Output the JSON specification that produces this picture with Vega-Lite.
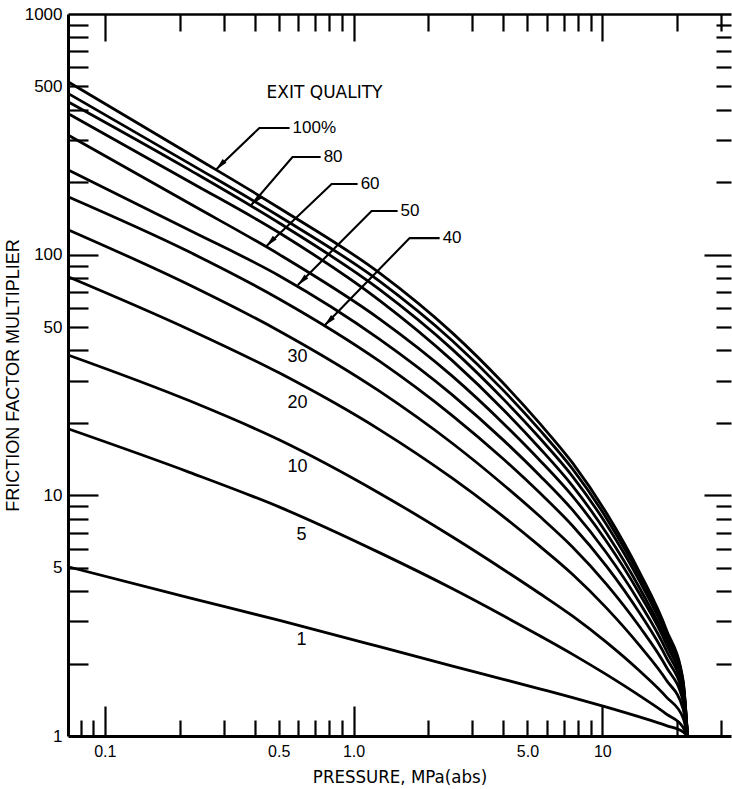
{
  "$schema": "https://vega.github.io/schema/vega-lite/v6.json",
  "width": 663,
  "height": 722,
  "autosize": {"type": "none"},
  "padding": {"left": 68, "top": 14, "right": 1, "bottom": 53},
  "background": "white",
  "config": {
    "view": {"stroke": null},
    "axis": {"grid": false, "labelOverlap": false, "labelFlush": false, "domainColor": "black", "tickColor": "black", "labelColor": "black", "titleColor": "black"}
  },
  "datasets": {
    "curves": [
      {"q": "100", "p": 0.0711, "f": 523}, {"q": "100", "p": 0.219, "f": 262}, {"q": "100", "p": 0.504, "f": 156}, {"q": "100", "p": 1.27, "f": 84.0}, {"q": "100", "p": 2.5, "f": 47.2}, {"q": "100", "p": 4.0, "f": 29.2}, {"q": "100", "p": 5.6, "f": 19.9}, {"q": "100", "p": 7.6, "f": 13.6}, {"q": "100", "p": 10.4, "f": 8.42}, {"q": "100", "p": 14.1, "f": 4.80}, {"q": "100", "p": 18.1, "f": 2.76}, {"q": "100", "p": 21.1, "f": 1.71}, {"q": "100", "p": 22.0, "f": 1},
      {"q": "90", "p": 0.0711, "f": 468}, {"q": "90", "p": 0.219, "f": 239}, {"q": "90", "p": 0.504, "f": 144}, {"q": "90", "p": 1.27, "f": 77.6}, {"q": "90", "p": 2.5, "f": 43.8}, {"q": "90", "p": 4.0, "f": 27.3}, {"q": "90", "p": 5.6, "f": 18.7}, {"q": "90", "p": 7.6, "f": 12.85}, {"q": "90", "p": 10.4, "f": 8.02}, {"q": "90", "p": 14.1, "f": 4.62}, {"q": "90", "p": 18.1, "f": 2.69}, {"q": "90", "p": 21.1, "f": 1.685}, {"q": "90", "p": 22.0, "f": 1},
      {"q": "80", "p": 0.0711, "f": 432}, {"q": "80", "p": 0.219, "f": 225}, {"q": "80", "p": 0.504, "f": 135}, {"q": "80", "p": 1.27, "f": 71.7}, {"q": "80", "p": 2.5, "f": 40.3}, {"q": "80", "p": 4.0, "f": 25.1}, {"q": "80", "p": 5.6, "f": 17.3}, {"q": "80", "p": 7.6, "f": 11.97}, {"q": "80", "p": 10.4, "f": 7.55}, {"q": "80", "p": 14.1, "f": 4.41}, {"q": "80", "p": 18.1, "f": 2.60}, {"q": "80", "p": 21.1, "f": 1.653}, {"q": "80", "p": 22.0, "f": 1},
      {"q": "70", "p": 0.0711, "f": 386}, {"q": "70", "p": 0.219, "f": 201}, {"q": "70", "p": 0.504, "f": 123}, {"q": "70", "p": 1.27, "f": 64.6}, {"q": "70", "p": 2.5, "f": 36.2}, {"q": "70", "p": 4.0, "f": 22.7}, {"q": "70", "p": 5.6, "f": 15.7}, {"q": "70", "p": 7.6, "f": 10.92}, {"q": "70", "p": 10.4, "f": 6.96}, {"q": "70", "p": 14.1, "f": 4.13}, {"q": "70", "p": 18.1, "f": 2.48}, {"q": "70", "p": 21.1, "f": 1.607}, {"q": "70", "p": 22.0, "f": 1},
      {"q": "60", "p": 0.0711, "f": 314}, {"q": "60", "p": 0.219, "f": 163.1}, {"q": "60", "p": 0.504, "f": 100}, {"q": "60", "p": 1.27, "f": 54.1}, {"q": "60", "p": 2.5, "f": 31.2}, {"q": "60", "p": 4.0, "f": 19.9}, {"q": "60", "p": 5.6, "f": 14.0}, {"q": "60", "p": 7.6, "f": 9.90}, {"q": "60", "p": 10.4, "f": 6.43}, {"q": "60", "p": 14.1, "f": 3.90}, {"q": "60", "p": 18.1, "f": 2.40}, {"q": "60", "p": 21.1, "f": 1.578}, {"q": "60", "p": 22.0, "f": 1},
      {"q": "50", "p": 0.0711, "f": 225}, {"q": "50", "p": 0.219, "f": 126.3}, {"q": "50", "p": 0.504, "f": 81.6}, {"q": "50", "p": 1.27, "f": 44.6}, {"q": "50", "p": 2.5, "f": 26.1}, {"q": "50", "p": 4.0, "f": 16.96}, {"q": "50", "p": 5.6, "f": 12.1}, {"q": "50", "p": 7.6, "f": 8.68}, {"q": "50", "p": 10.4, "f": 5.76}, {"q": "50", "p": 14.1, "f": 3.59}, {"q": "50", "p": 18.1, "f": 2.26}, {"q": "50", "p": 21.1, "f": 1.529}, {"q": "50", "p": 22.0, "f": 1},
      {"q": "40", "p": 0.0711, "f": 174}, {"q": "40", "p": 0.219, "f": 102.5}, {"q": "40", "p": 0.504, "f": 65.3}, {"q": "40", "p": 1.27, "f": 36.1}, {"q": "40", "p": 2.5, "f": 21.4}, {"q": "40", "p": 4.0, "f": 14.15}, {"q": "40", "p": 5.6, "f": 10.24}, {"q": "40", "p": 7.6, "f": 7.46}, {"q": "40", "p": 10.4, "f": 5.07}, {"q": "40", "p": 14.1, "f": 3.25}, {"q": "40", "p": 18.1, "f": 2.11}, {"q": "40", "p": 21.1, "f": 1.471}, {"q": "40", "p": 22.0, "f": 1},
      {"q": "30", "p": 0.0711, "f": 127}, {"q": "30", "p": 0.219, "f": 74.8}, {"q": "30", "p": 0.504, "f": 48.1}, {"q": "30", "p": 1.27, "f": 27.1}, {"q": "30", "p": 2.5, "f": 16.42}, {"q": "30", "p": 4.0, "f": 11.07}, {"q": "30", "p": 5.6, "f": 8.18}, {"q": "30", "p": 7.6, "f": 6.09}, {"q": "30", "p": 10.4, "f": 4.27}, {"q": "30", "p": 14.1, "f": 2.85}, {"q": "30", "p": 18.1, "f": 1.93}, {"q": "30", "p": 21.1, "f": 1.398}, {"q": "30", "p": 22.0, "f": 1},
      {"q": "20", "p": 0.0711, "f": 81}, {"q": "20", "p": 0.219, "f": 48.8}, {"q": "20", "p": 0.504, "f": 32.2}, {"q": "20", "p": 1.27, "f": 18.75}, {"q": "20", "p": 2.5, "f": 11.75}, {"q": "20", "p": 4.0, "f": 8.16}, {"q": "20", "p": 5.6, "f": 6.15}, {"q": "20", "p": 7.6, "f": 4.69}, {"q": "20", "p": 10.4, "f": 3.40}, {"q": "20", "p": 14.1, "f": 2.38}, {"q": "20", "p": 18.1, "f": 1.705}, {"q": "20", "p": 21.1, "f": 1.301}, {"q": "20", "p": 22.0, "f": 1},
      {"q": "10", "p": 0.0711, "f": 38.3}, {"q": "10", "p": 0.219, "f": 24.7}, {"q": "10", "p": 0.504, "f": 16.98}, {"q": "10", "p": 1.27, "f": 10.21}, {"q": "10", "p": 2.5, "f": 6.71}, {"q": "10", "p": 4.0, "f": 4.92}, {"q": "10", "p": 5.6, "f": 3.91}, {"q": "10", "p": 7.6, "f": 3.146}, {"q": "10", "p": 10.4, "f": 2.449}, {"q": "10", "p": 14.1, "f": 1.866}, {"q": "10", "p": 18.1, "f": 1.451}, {"q": "10", "p": 21.1, "f": 1.192}, {"q": "10", "p": 22.0, "f": 1},
      {"q": "5", "p": 0.0711, "f": 18.9}, {"q": "5", "p": 0.219, "f": 12.46}, {"q": "5", "p": 0.504, "f": 8.93}, {"q": "5", "p": 1.27, "f": 5.78}, {"q": "5", "p": 2.5, "f": 4.09}, {"q": "5", "p": 4.0, "f": 3.16}, {"q": "5", "p": 5.6, "f": 2.61}, {"q": "5", "p": 7.6, "f": 2.184}, {"q": "5", "p": 10.4, "f": 1.798}, {"q": "5", "p": 14.1, "f": 1.471}, {"q": "5", "p": 18.1, "f": 1.234}, {"q": "5", "p": 21.1, "f": 1.088}, {"q": "5", "p": 22.0, "f": 1},
      {"q": "1", "p": 0.0711, "f": 5.05}, {"q": "1", "p": 0.219, "f": 3.75}, {"q": "1", "p": 0.504, "f": 3.02}, {"q": "1", "p": 1.27, "f": 2.35}, {"q": "1", "p": 2.5, "f": 1.95}, {"q": "1", "p": 4.0, "f": 1.72}, {"q": "1", "p": 5.6, "f": 1.57}, {"q": "1", "p": 7.6, "f": 1.444}, {"q": "1", "p": 10.4, "f": 1.318}, {"q": "1", "p": 14.1, "f": 1.200}, {"q": "1", "p": 18.1, "f": 1.105}, {"q": "1", "p": 21.1, "f": 1.041}, {"q": "1", "p": 22.0, "f": 1}
    ],
    "curveLabels": [
      {"t": "30", "p": 0.595, "f": 37.6},
      {"t": "20", "p": 0.595, "f": 24.2},
      {"t": "10", "p": 0.595, "f": 13.1},
      {"t": "5", "p": 0.618, "f": 6.84},
      {"t": "1", "p": 0.618, "f": 2.51}
    ],
    "leaders": [
      {"g": "100%", "p": 0.280, "f": 226}, {"g": "100%", "p": 0.418, "f": 336}, {"g": "100%", "p": 0.553, "f": 336},
      {"g": "80", "p": 0.388, "f": 161}, {"g": "80", "p": 0.568, "f": 254.4}, {"g": "80", "p": 0.737, "f": 254.4},
      {"g": "60", "p": 0.4455, "f": 108.5}, {"g": "60", "p": 0.816, "f": 196.6}, {"g": "60", "p": 1.038, "f": 196.6},
      {"g": "50", "p": 0.597, "f": 74.8}, {"g": "50", "p": 1.181, "f": 151.8}, {"g": "50", "p": 1.503, "f": 151.8},
      {"g": "40", "p": 0.764, "f": 50.8}, {"g": "40", "p": 1.680, "f": 117.2}, {"g": "40", "p": 2.218, "f": 117.2}
    ],
    "tips": [
      {"g": "100%", "p": 0.280, "f": 226},
      {"g": "80", "p": 0.388, "f": 161},
      {"g": "60", "p": 0.4455, "f": 108.5},
      {"g": "50", "p": 0.597, "f": 74.8},
      {"g": "40", "p": 0.764, "f": 50.8}
    ],
    "leaderLabels": [
      {"t": "100%", "p": 0.553, "f": 336},
      {"t": "80", "p": 0.737, "f": 254.4},
      {"t": "60", "p": 1.038, "f": 196.6},
      {"t": "50", "p": 1.503, "f": 151.8},
      {"t": "40", "p": 2.218, "f": 117.2}
    ],
    "heading": [
      {"t": "EXIT QUALITY", "p": 0.764, "f": 469}
    ]
  },
  "resolve": {
    "scale": {"x": "shared", "y": "shared"},
    "axis": {"x": "independent", "y": "independent"}
  },
  "layer": [
    {
      "data": {"name": "curves"},
      "mark": {"type": "line", "interpolate": "monotone", "color": "black", "strokeWidth": 2.8},
      "encoding": {
        "x": {
          "field": "p", "type": "quantitative",
          "scale": {"type": "log", "domain": [0.0711, 32.9], "nice": false},
          "axis": {
            "orient": "bottom", "title": null, "labels": false,
            "values": [0.08, 0.09, 0.1, 0.2, 0.3, 0.4, 0.5, 0.6, 0.7, 0.8, 0.9, 1, 2, 3, 4, 5, 6, 7, 8, 9, 10, 20, 30],
            "domain": true, "domainWidth": 3,
            "ticks": true, "tickWidth": 2.2,
            "tickSize": {"condition": {"test": "datum.value == 0.1 || datum.value == 1 || datum.value == 10", "value": -30}, "value": -16}
          }
        },
        "y": {
          "field": "f", "type": "quantitative",
          "scale": {"type": "log", "domain": [1, 1000], "nice": false},
          "axis": {
            "orient": "left", "title": null, "labels": false,
            "values": [2, 3, 4, 5, 6, 7, 8, 9, 10, 20, 30, 40, 50, 60, 70, 80, 90, 100, 200, 300, 400, 500, 600, 700, 800, 900],
            "domain": true, "domainWidth": 3,
            "ticks": true, "tickWidth": 2.2,
            "tickSize": {"condition": {"test": "datum.value == 10 || datum.value == 100", "value": -30}, "value": -20}
          }
        },
        "detail": {"field": "q", "type": "nominal"}
      }
    },
    {
      "data": {"name": "curveLabels"},
      "mark": {"type": "text", "font": "Liberation Sans", "fontSize": 18, "align": "center", "baseline": "middle", "color": "black"},
      "encoding": {
        "x": {
          "field": "p", "type": "quantitative",
          "scale": {"type": "log", "domain": [0.0711, 32.9], "nice": false},
          "axis": {
            "orient": "bottom", "values": [0.1, 0.5, 1, 5, 10],
            "ticks": false, "tickSize": 0, "domain": false,
            "labelExpr": "datum.value == 1 ? '1.0' : datum.value == 5 ? '5.0' : format(datum.value, '~g')",
            "labelFont": "Liberation Sans", "labelFontSize": 16, "labelPadding": 7,
            "title": "PRESSURE, MPa(abs)",
            "titleFont": "DejaVu Sans Condensed, Liberation Sans, sans-serif", "titleFontSize": 18.5, "titleFontWeight": "normal", "titlePadding": 8
          }
        },
        "y": {
          "field": "f", "type": "quantitative",
          "scale": {"type": "log", "domain": [1, 1000], "nice": false},
          "axis": {
            "orient": "left", "values": [1, 5, 10, 50, 100, 500, 1000],
            "ticks": false, "tickSize": 0, "domain": false,
            "labelExpr": "format(datum.value, 'd')",
            "labelFont": "Liberation Sans", "labelFontSize": 17, "labelPadding": 6,
            "title": "FRICTION FACTOR MULTIPLIER",
            "titleFont": "Liberation Sans", "titleFontSize": 18, "titleFontWeight": "normal", "titlePadding": 2
          }
        },
        "text": {"field": "t", "type": "nominal"}
      }
    },
    {
      "data": {"name": "leaders"},
      "mark": {"type": "line", "color": "black", "strokeWidth": 2.1},
      "encoding": {
        "x": {
          "field": "p", "type": "quantitative",
          "scale": {"type": "log", "domain": [0.0711, 32.9], "nice": false},
          "axis": {
            "orient": "top", "title": null, "labels": false,
            "values": [0.1, 0.2, 0.3, 0.4, 0.5, 0.6, 0.7, 0.8, 0.9, 1, 2, 3, 4, 5, 6, 7, 8, 9, 10, 20, 30],
            "domain": true, "domainWidth": 2.5,
            "ticks": true, "tickWidth": 2.2,
            "tickSize": {"condition": {"test": "datum.value == 0.1 || datum.value == 1 || datum.value == 10", "value": -27}, "value": -17}
          }
        },
        "y": {
          "field": "f", "type": "quantitative",
          "scale": {"type": "log", "domain": [1, 1000], "nice": false},
          "axis": {
            "orient": "right", "title": null, "labels": false,
            "values": [2, 3, 4, 5, 6, 7, 8, 9, 10, 20, 30, 40, 50, 60, 70, 80, 90, 100, 200, 300, 400, 500, 600, 700, 800, 900],
            "domain": false,
            "ticks": true, "tickWidth": 2.2,
            "tickSize": {"condition": {"test": "datum.value == 10 || datum.value == 100", "value": -27}, "value": -15}
          }
        },
        "detail": {"field": "g", "type": "nominal"}
      }
    },
    {
      "data": {"name": "tips"},
      "mark": {"type": "point", "shape": "M0,0L-0.45,2L0.45,2Z", "size": 144, "angle": 225, "filled": true, "color": "black", "opacity": 1, "strokeWidth": 0},
      "encoding": {
        "x": {"field": "p", "type": "quantitative", "scale": {"type": "log", "domain": [0.0711, 32.9], "nice": false}, "axis": null},
        "y": {"field": "f", "type": "quantitative", "scale": {"type": "log", "domain": [1, 1000], "nice": false}, "axis": null}
      }
    },
    {
      "data": {"name": "leaderLabels"},
      "mark": {"type": "text", "font": "Liberation Sans", "fontSize": 17, "align": "left", "baseline": "middle", "dx": 3, "color": "black"},
      "encoding": {
        "x": {"field": "p", "type": "quantitative", "scale": {"type": "log", "domain": [0.0711, 32.9], "nice": false}, "axis": null},
        "y": {"field": "f", "type": "quantitative", "scale": {"type": "log", "domain": [1, 1000], "nice": false}, "axis": null},
        "text": {"field": "t", "type": "nominal"}
      }
    },
    {
      "data": {"name": "heading"},
      "mark": {"type": "text", "font": "DejaVu Sans", "fontSize": 17, "align": "center", "baseline": "middle", "color": "black"},
      "encoding": {
        "x": {"field": "p", "type": "quantitative", "scale": {"type": "log", "domain": [0.0711, 32.9], "nice": false}, "axis": null},
        "y": {"field": "f", "type": "quantitative", "scale": {"type": "log", "domain": [1, 1000], "nice": false}, "axis": null},
        "text": {"field": "t", "type": "nominal"}
      }
    }
  ]
}
